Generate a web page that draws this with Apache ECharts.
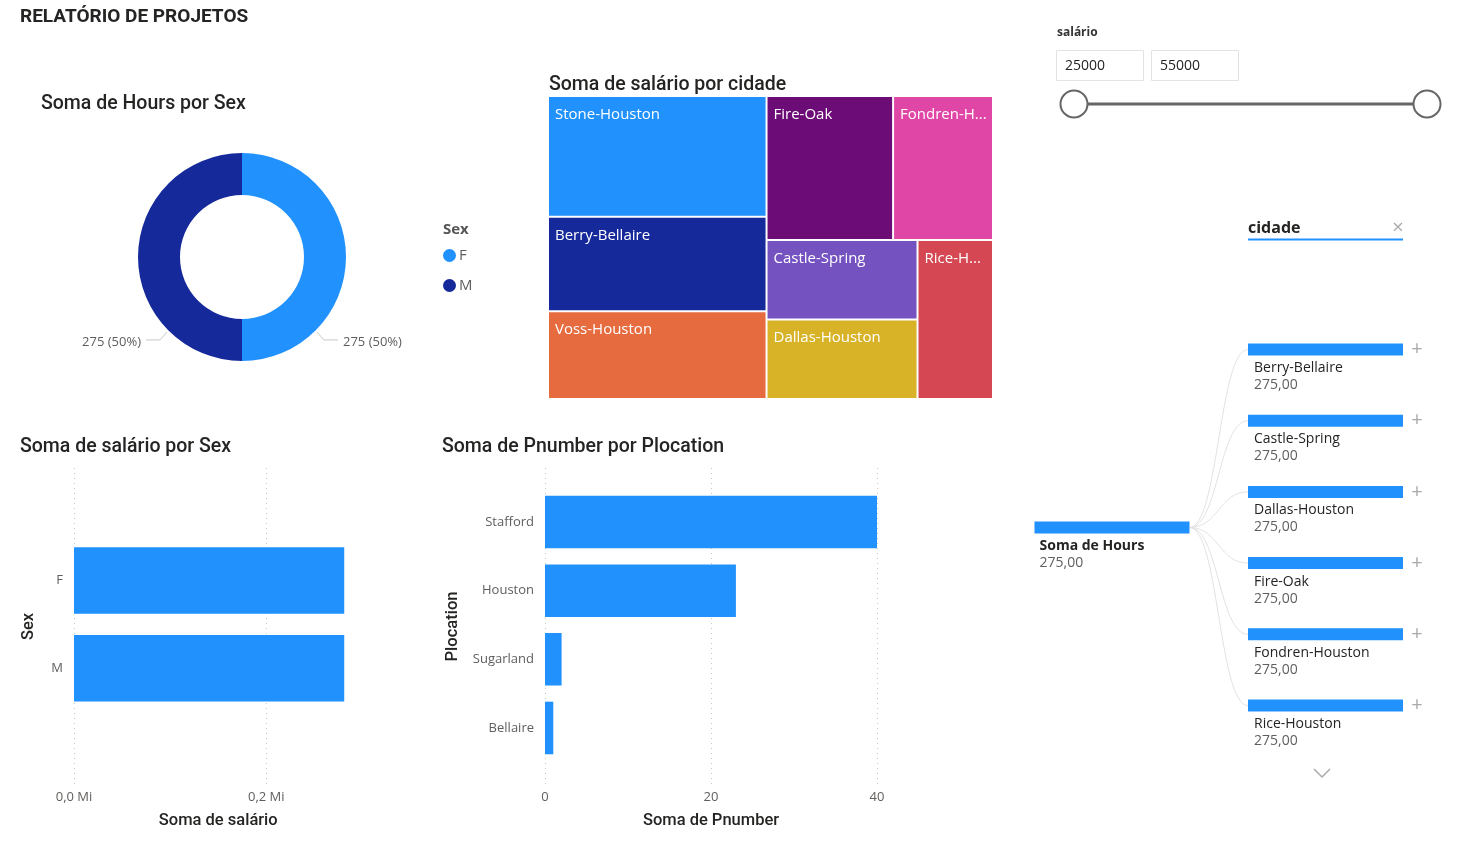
<!DOCTYPE html>
<html>
<head>
<meta charset="utf-8">
<script src="https://cdn.jsdelivr.net/npm/echarts@6/dist/echarts.min.js"></script>
<style>html,body{margin:0;padding:0;background:#fff}#c{width:1471px;height:847px}</style>
</head>
<body>
<div id="c"></div>
<script>
// ---------- data ----------
const sexCategories = ['F', 'M'];
const hoursBySex = [275, 275];
const salaryBySex = [281000, 281000];
const cityNames = ['Stone-Houston', 'Berry-Bellaire', 'Voss-Houston', 'Fire-Oak', 'Fondren-Houston', 'Rice-Houston', 'Dallas-Houston', 'Castle-Spring'];
const salaryByCity = [110000, 86000, 80000, 76000, 60000, 50000, 50000, 50000];
const plocations = ['Stafford', 'Houston', 'Sugarland', 'Bellaire'];
const pnumberByPlocation = [40, 23, 2, 1];
const decompRootName = 'Soma de Hours';
const decompRootValue = 275;
const decompCities = ['Berry-Bellaire', 'Castle-Spring', 'Dallas-Houston', 'Fire-Oak', 'Fondren-Houston', 'Rice-Houston'];
const decompHours = [275, 275, 275, 275, 275, 275];
const salaryTickStep = 200000;
const pnumberTickStep = 20;
const sliderRange = [25000, 55000];

// ---------- style ----------
const BLUE = '#2191FD';
const NAVY = '#15299A';
const cityColors = ['#2191FD', '#15299A', '#E66C40', '#6B0C77', '#E046A6', '#D54752', '#D8B328', '#7452C0'];
const TITLE_FONT = 'Roboto, "Noto Sans", sans-serif';
const BODY_FONT = '"Open Sans", "Noto Sans", sans-serif';
const LABEL_COLOR = '#605E5C';
const DARK = '#252423';
const fmtPt = v => v.toFixed(2).replace('.', ',');
const fmtMi = v => (v / 1e6).toFixed(1).replace('.', ',') + ' Mi';

const chart = echarts.init(document.getElementById('c'), null, { renderer: 'canvas' });

const titleStyle = { fontFamily: TITLE_FONT, fontSize: 19.5, fontWeight: 500, color: DARK };

// decomposition tree geometry (bar edges: root bar right end, child bar left end)
const barW = 155;
const treeRootEnd = 1189.5, treeLeafStart = 1248, treeTopY = 349.5, treeStep = 71.2;
const treeRect = {
  left: treeRootEnd, right: 1471 - treeLeafStart,
  top: treeTopY - treeStep / 2,
  bottom: 847 - (treeTopY + treeStep * (decompCities.length - 1) + treeStep / 2)
};

const graphics = [];
// slider
graphics.push(
  { type: 'text', style: { x: 1057, y: 33, text: 'salário', font: 'bold 12px ' + BODY_FONT, fill: '#333', verticalAlign: 'middle' } },
  { type: 'rect', shape: { x: 1056.5, y: 50.5, width: 87, height: 30 }, style: { fill: '#fff', stroke: '#e3e3e3', lineWidth: 1 } },
  { type: 'rect', shape: { x: 1151.5, y: 50.5, width: 87, height: 30 }, style: { fill: '#fff', stroke: '#e3e3e3', lineWidth: 1 } },
  { type: 'text', style: { x: 1065, y: 66.5, text: String(sliderRange[0]), font: '14px ' + BODY_FONT, fill: DARK, verticalAlign: 'middle' } },
  { type: 'text', style: { x: 1160, y: 66.5, text: String(sliderRange[1]), font: '14px ' + BODY_FONT, fill: DARK, verticalAlign: 'middle' } },
  { type: 'line', shape: { x1: 1087, y1: 104, x2: 1414, y2: 104 }, style: { stroke: '#666', lineWidth: 3 } },
  { type: 'circle', shape: { cx: 1074, cy: 104, r: 13.5 }, style: { fill: '#fff', stroke: '#666', lineWidth: 2 } },
  { type: 'circle', shape: { cx: 1427, cy: 104, r: 13.5 }, style: { fill: '#fff', stroke: '#666', lineWidth: 2 } }
);
// cidade slicer header
graphics.push(
  { type: 'text', style: { x: 1248, y: 228, text: 'cidade', font: 'bold 16px ' + BODY_FONT, fill: DARK, verticalAlign: 'middle' } },
  { type: 'line', shape: { x1: 1248, y1: 239.5, x2: 1403, y2: 239.5 }, style: { stroke: BLUE, lineWidth: 2 } },
  { type: 'text', style: { x: 1398, y: 228, text: '×', font: '20px ' + BODY_FONT, fill: '#aaa', align: 'center', verticalAlign: 'middle' } }
);
// plus signs and chevron of the decomposition tree
decompCities.forEach((c, i) => {
  graphics.push({ type: 'text', style: { x: 1417, y: treeTopY + i * treeStep, text: '+', font: '20px ' + BODY_FONT, fill: '#aaa', align: 'center', verticalAlign: 'middle' } });
});
graphics.push({ type: 'polyline', shape: { points: [[1314, 769], [1322, 777], [1330, 769]] }, style: { stroke: '#aaa', lineWidth: 1.5, fill: null } });

const leafLabel = {
  position: [6, 16], align: 'left', verticalAlign: 'top',
  formatter: p => '{n|' + p.name + '}\n{v|' + fmtPt(p.value) + '}',
  rich: {
    n: { fontSize: 14, color: DARK, fontFamily: BODY_FONT, lineHeight: 17 },
    v: { fontSize: 14, color: LABEL_COLOR, fontFamily: BODY_FONT, lineHeight: 17 }
  }
};

const option = {
  animation: false,
  textStyle: { fontFamily: BODY_FONT },
  title: [
    { text: 'RELATÓRIO DE PROJETOS', left: 20, top: 8, padding: 0, textStyle: { fontFamily: TITLE_FONT, fontSize: 19, fontWeight: 'bold', color: DARK } },
    { text: 'Soma de Hours por Sex', left: 41, top: 94, padding: 0, textStyle: titleStyle },
    { text: 'Soma de salário por cidade', left: 549, top: 75, padding: 0, textStyle: titleStyle },
    { text: 'Soma de salário por Sex', left: 20, top: 437, padding: 0, textStyle: titleStyle },
    { text: 'Soma de Pnumber por Plocation', left: 442, top: 437, padding: 0, textStyle: titleStyle },
    { text: 'Sex', left: 443, top: 222, padding: 0, textStyle: { fontFamily: BODY_FONT, fontSize: 15, fontWeight: 'bold', color: '#555' } }
  ],
  legend: {
    data: sexCategories,
    orient: 'vertical', left: 443, top: 248, padding: 0,
    icon: 'circle', itemWidth: 13, itemHeight: 13, itemGap: 15,
    textStyle: { fontSize: 15, color: LABEL_COLOR, fontFamily: BODY_FONT, padding: [0, 0, 0, -2] }
  },
  grid: [
    { left: 74, top: 468, width: 192.3, bottom: 62 },          // 0 sex axis / grid lines
    { left: 74, top: 536.6, width: 288.5, bottom: 134.8 },     // 1 sex bars
    { left: 545, top: 468, width: 332, bottom: 62 },           // 2 pnumber axis / grid lines
    { left: 545, top: 487.7, width: 332, bottom: 84.7 }        // 3 pnumber bars
  ],
  xAxis: [
    { gridIndex: 0, type: 'value', min: 0, max: salaryTickStep, interval: salaryTickStep,
      axisLine: { show: false }, axisTick: { show: false },
      splitLine: { lineStyle: { type: [1, 4], color: '#c8c8c8' } },
      axisLabel: { formatter: fmtMi, color: LABEL_COLOR, fontSize: 13, margin: 6 } },
    { gridIndex: 1, type: 'value', min: 0, max: salaryTickStep * 1.5,
      axisLine: { show: false }, axisTick: { show: false }, splitLine: { show: false }, axisLabel: { show: false },
      name: 'Soma de salário', nameLocation: 'middle', nameGap: 100,
      nameTextStyle: { fontFamily: TITLE_FONT, fontSize: 16.5, fontWeight: 500, color: DARK } },
    { gridIndex: 2, type: 'value', min: 0, max: pnumberTickStep * 2, interval: pnumberTickStep,
      axisLine: { show: false }, axisTick: { show: false },
      splitLine: { lineStyle: { type: [1, 4], color: '#c8c8c8' } },
      axisLabel: { color: LABEL_COLOR, fontSize: 13, margin: 6 },
      name: 'Soma de Pnumber', nameLocation: 'middle', nameGap: 27,
      nameTextStyle: { fontFamily: TITLE_FONT, fontSize: 16.5, fontWeight: 500, color: DARK } },
    { gridIndex: 3, type: 'value', min: 0, max: pnumberTickStep * 2, show: false }
  ],
  yAxis: [
    { gridIndex: 0, type: 'value', axisLine: { show: false }, axisTick: { show: false }, axisLabel: { show: false }, splitLine: { show: false },
      name: 'Sex', nameLocation: 'middle', nameGap: 37,
      nameTextStyle: { fontFamily: TITLE_FONT, fontSize: 16.5, fontWeight: 500, color: DARK } },
    { gridIndex: 1, type: 'category', data: sexCategories, inverse: true,
      axisLine: { show: false }, axisTick: { show: false },
      axisLabel: { color: LABEL_COLOR, fontSize: 13, margin: 11, padding: [3, 0, 0, 0] } },
    { gridIndex: 2, type: 'value', axisLine: { show: false }, axisTick: { show: false }, axisLabel: { show: false }, splitLine: { show: false },
      name: 'Plocation', nameLocation: 'middle', nameGap: 84,
      nameTextStyle: { fontFamily: TITLE_FONT, fontSize: 16.5, fontWeight: 500, color: DARK } },
    { gridIndex: 3, type: 'category', data: plocations, inverse: true,
      axisLine: { show: false }, axisTick: { show: false },
      axisLabel: { color: LABEL_COLOR, fontSize: 13, margin: 11, padding: [2, 0, 0, 0] } }
  ],
  series: [
    {
      type: 'pie', center: [242, 257], radius: [62, 104], startAngle: 90, clockwise: true,
      data: sexCategories.map((s, i) => ({ name: s, value: hoursBySex[i], itemStyle: { color: i === 0 ? BLUE : NAVY } })),
      label: { formatter: '{c} ({d}%)', color: LABEL_COLOR, fontSize: 13, fontFamily: BODY_FONT },
      labelLine: { show: true, lineStyle: { color: '#c8c8c8', width: 1 } },
      labelLayout: function (p) {
        const r = p.rect;
        const R = r.height / 2 + 2;
        const cy = r.y + r.height / 2;
        const side = (p.labelRect.x + p.labelRect.width / 2) > (r.x + r.width / 2) ? 1 : -1;
        const cx = side > 0 ? r.x : r.x + r.width;
        const p0 = [cx + side * R * Math.SQRT1_2, cy + R * Math.SQRT1_2];
        const p1 = [p0[0] + side * 7, p0[1] + 8];
        const p2 = [p1[0] + side * 14, p1[1]];
        return { x: p2[0] + side * 5, y: p2[1] + 2, align: side > 0 ? 'left' : 'right', verticalAlign: 'middle', labelLinePoints: [p0, p1, p2] };
      },
      emphasis: { disabled: true }
    },
    {
      type: 'treemap', left: 549, top: 97, width: 443, height: 301,
      roam: false, nodeClick: false, breadcrumb: { show: false },
      itemStyle: { gapWidth: 2, borderWidth: 0, borderColor: '#fff' },
      label: { show: true, position: 'insideTopLeft', distance: 6, color: '#fff', fontSize: 15, fontFamily: BODY_FONT, overflow: 'truncate', ellipsis: '...', padding: [4, 7, 0, 0] },
      data: cityNames.map((c, i) => ({ name: c, value: salaryByCity[i], itemStyle: { color: cityColors[i] } })),
      emphasis: { disabled: true }
    },
    {
      type: 'bar', xAxisIndex: 1, yAxisIndex: 1, data: salaryBySex, barCategoryGap: '24.4%',
      itemStyle: { color: BLUE }, emphasis: { disabled: true }
    },
    {
      type: 'bar', xAxisIndex: 3, yAxisIndex: 3, data: pnumberByPlocation, barCategoryGap: '23.4%',
      itemStyle: { color: BLUE }, emphasis: { disabled: true }
    },
    {
      type: 'tree', orient: 'LR', layout: 'orthogonal',
      left: treeRect.left, right: treeRect.right, top: treeRect.top, bottom: treeRect.bottom,
      roam: false, expandAndCollapse: false, initialTreeDepth: -1,
      symbol: 'rect', symbolSize: [barW, 12], symbolOffset: [barW / 2, 0],
      edgeShape: 'curve',
      lineStyle: { color: '#e2e2e2', width: 1, curveness: 0.5 },
      itemStyle: { color: BLUE, borderWidth: 0 },
      label: leafLabel,
      leaves: { label: leafLabel },
      emphasis: { disabled: true },
      data: [{
        name: decompRootName, value: decompRootValue,
        symbolOffset: [-barW / 2, 0],
        itemStyle: { color: BLUE, borderWidth: 0 },
        label: {
          position: [5, 16],
          formatter: p => '{b|' + p.name + '}\n{v|' + fmtPt(p.value) + '}',
          rich: {
            b: { fontSize: 14, fontWeight: 'bold', color: DARK, fontFamily: BODY_FONT, lineHeight: 17 },
            v: { fontSize: 14, color: LABEL_COLOR, fontFamily: BODY_FONT, lineHeight: 17 }
          }
        },
        children: decompCities.map((c, i) => ({ name: c, value: decompHours[i] }))
      }]
    }
  ],
  graphic: graphics
};
chart.setOption(option);
</script>
</body>
</html>
